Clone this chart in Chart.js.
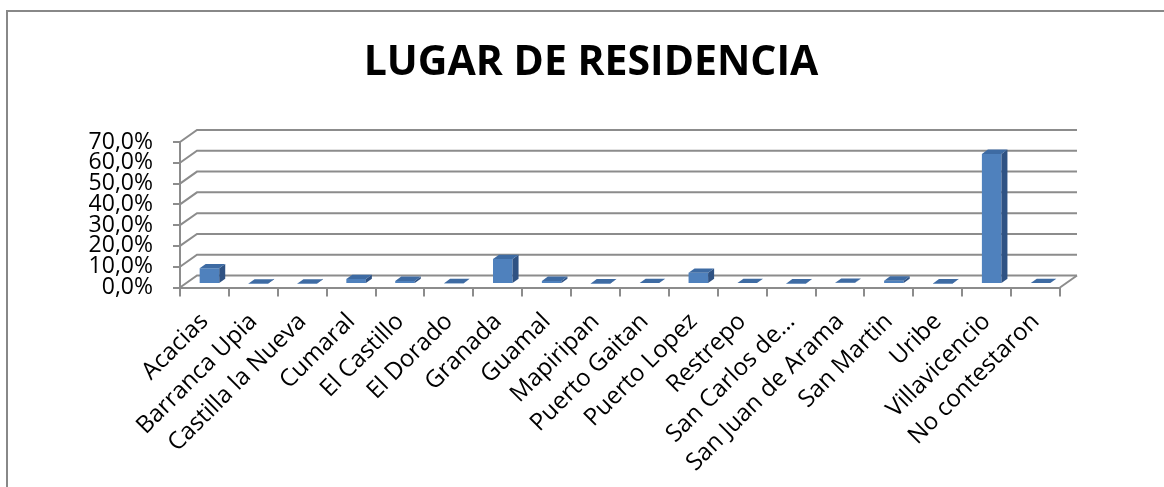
<!DOCTYPE html>
<html>
<head>
<meta charset="utf-8">
<script src="https://cdn.jsdelivr.net/npm/chart.js@4.4.1/dist/chart.umd.min.js"></script>
<style>
  html, body { margin: 0; padding: 0; background: #fff; }
  #wrap { width: 1164px; height: 487px; }
</style>
</head>
<body>
<div id="wrap"><canvas id="c" width="1164" height="487"></canvas></div>
<script>
const titleText = 'LUGAR DE RESIDENCIA';
const categories = ['Acacias', 'Barranca Upia', 'Castilla la Nueva', 'Cumaral', 'El Castillo', 'El Dorado',
  'Granada', 'Guamal', 'Mapiripan', 'Puerto Gaitan', 'Puerto Lopez', 'Restrepo', 'San Carlos de…',
  'San Juan de Arama', 'San Martin', 'Uribe', 'Villavicencio', 'No contestaron'];
const values = [7.6, 0.2, 0.2, 2.4, 1.5, 0.4, 12.0, 1.5, 0.3, 0.5, 5.4, 0.5, 0.3, 0.6, 1.6, 0.3, 62.6, 0.5];
const yTicks = [0, 10, 20, 30, 40, 50, 60, 70];

const GRID = '#8c8c8c';
const FRONT = '#4f81bd', TOPC = '#3e6ba3', SIDEC = '#2f5283';
const DX = 17, DY = -12;     // back wall depth
const BX = 5, BY = -3.5;     // bar position inside depth
const SX = 6, SY = -4.3;     // bar depth

const threeD = {
  id: 'threeD',
  beforeDraw(chart) {
    const ctx = chart.ctx;
    ctx.save();
    ctx.strokeStyle = '#888888';
    ctx.lineWidth = 2;
    ctx.beginPath();
    ctx.moveTo(7, 600);
    ctx.lineTo(7, 11);
    ctx.lineTo(1300, 11);
    ctx.stroke();
    ctx.restore();
  },
  beforeDatasetsDraw(chart) {
    const { ctx, chartArea: { left, right, bottom }, scales: { y } } = chart;
    ctx.save();
    ctx.strokeStyle = GRID;
    ctx.lineWidth = 2;
    yTicks.forEach(v => {
      const py = y.getPixelForValue(v);
      ctx.beginPath();
      ctx.moveTo(left, py);
      ctx.lineTo(left + DX, py + DY);
      ctx.lineTo(right + DX, py + DY);
      ctx.stroke();
    });
    ctx.beginPath();
    ctx.moveTo(right, bottom);
    ctx.lineTo(right + DX, bottom + DY);
    ctx.stroke();
    ctx.restore();
  },
  beforeDatasetDraw(chart) {
    chart.ctx.save();
    chart.ctx.translate(BX, BY);
  },
  afterDatasetDraw(chart, args) {
    const ctx = chart.ctx;
    args.meta.data.forEach(bar => {
      const { x, y, base, width } = bar.getProps(['x', 'y', 'base', 'width'], true);
      const x0 = x - width / 2, x1 = x + width / 2;
      ctx.fillStyle = SIDEC;
      ctx.beginPath();
      ctx.moveTo(x1, y); ctx.lineTo(x1 + SX, y + SY); ctx.lineTo(x1 + SX, base + SY); ctx.lineTo(x1, base);
      ctx.closePath(); ctx.fill();
      ctx.fillStyle = TOPC;
      ctx.beginPath();
      ctx.moveTo(x0, y); ctx.lineTo(x1, y); ctx.lineTo(x1 + SX, y + SY); ctx.lineTo(x0 + SX, y + SY);
      ctx.closePath(); ctx.fill();
    });
    ctx.restore();
  }
};

Chart.defaults.font.family = '"Open Sans", "DejaVu Sans", sans-serif';
Chart.defaults.color = '#000';

new Chart(document.getElementById('c'), {
  type: 'bar',
  data: {
    labels: categories,
    datasets: [{
      data: values,
      backgroundColor: FRONT,
      borderWidth: 0,
      categoryPercentage: 1.0,
      barPercentage: 0.4
    }]
  },
  options: {
    responsive: false,
    animation: false,
    layout: { padding: { left: 18, right: 0, top: 0, bottom: 0 } },
    plugins: {
      legend: { display: false },
      tooltip: { enabled: false },
      title: {
        display: true,
        text: titleText,
        color: '#000',
        font: { size: 41, weight: 'bold', lineHeight: 1.2 },
        padding: { top: 39, bottom: 53.8 }
      }
    },
    scales: {
      x: {
        grid: { offset: true, drawOnChartArea: false, drawTicks: true, tickLength: 9, color: GRID, lineWidth: 2 },
        border: { display: true, color: GRID, width: 2 },
        ticks: { autoSkip: false, minRotation: 45, maxRotation: 45, padding: 11, font: { size: 24 } },
        afterFit(scale) { scale.height = 199.5; }
      },
      y: {
        min: 0, max: 70,
        grid: { drawOnChartArea: false, drawTicks: true, tickLength: 7, color: GRID, lineWidth: 2 },
        border: { display: true, color: GRID, width: 2 },
        ticks: {
          autoSkip: false, stepSize: 10, padding: 20, font: { size: 23 },
          callback: v => v.toFixed(1).replace('.', ',') + '%'
        },
        afterBuildTicks(scale) { scale.ticks = yTicks.map(v => ({ value: v })); },
        afterFit(scale) { scale.width = 162; }
      },
      yr: {
        position: 'right',
        display: true,
        grid: { display: false, drawTicks: false },
        border: { display: false },
        ticks: { display: false },
        afterFit(scale) { scale.width = 104; }
      }
    }
  },
  plugins: [threeD]
});
</script>
</body>
</html>
